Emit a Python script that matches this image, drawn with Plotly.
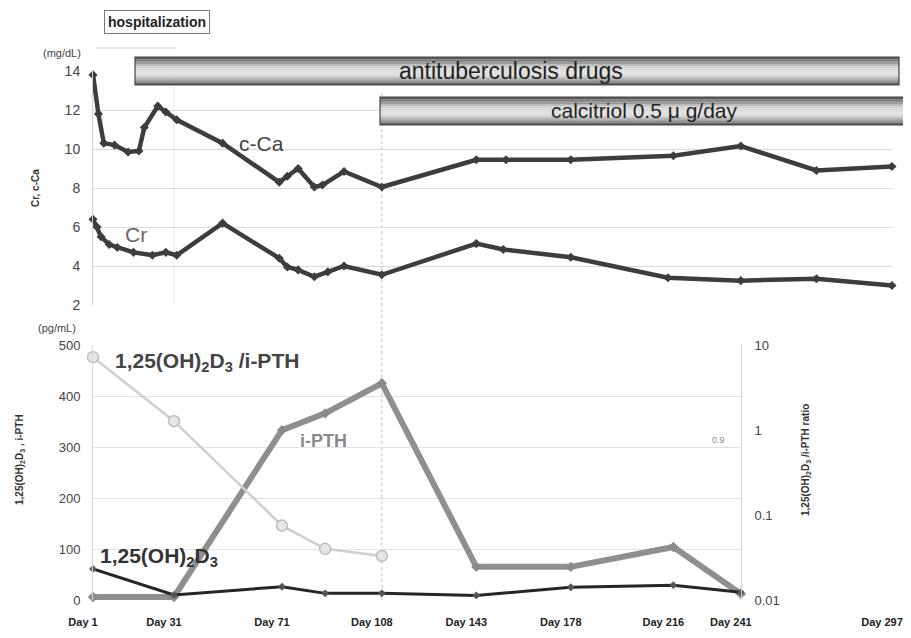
import plotly.graph_objects as go

# ---------------- data ----------------
ca_days = [1, 3, 5, 9, 14, 18, 20, 25, 28, 32, 49, 70, 73, 77, 83, 86, 94, 108, 143, 154, 178, 216, 241, 269, 297]
ca_vals = [13.8, 11.8, 10.3, 10.2, 9.85, 9.9, 11.1, 12.2, 11.9, 11.5, 10.3, 8.3, 8.6, 9.0, 8.05, 8.15, 8.85, 8.05, 9.45, 9.45, 9.45, 9.65, 10.15, 8.9, 9.1]

cr_days = [1, 2.5, 4, 7, 10, 16, 23, 28, 32, 49, 70, 73, 77, 83, 88, 94, 108, 143, 153, 178, 214, 241, 269, 297]
cr_vals = [6.4, 6.0, 5.5, 5.1, 4.95, 4.7, 4.55, 4.7, 4.55, 6.2, 4.4, 3.95, 3.8, 3.45, 3.7, 4.0, 3.55, 5.15, 4.85, 4.45, 3.4, 3.25, 3.35, 3.0]

lab_days = [1, 31, 71, 87, 108, 143, 178, 216, 241]
d3_vals = [61, 10, 26, 13, 13, 9, 25, 29, 15]
pth_vals = [6, 6, 333, 366, 425, 65, 65, 104, 12]

ratio_days = [1, 31, 71, 87, 108]
ratio_vals = [7.2, 1.27, 0.075, 0.040, 0.033]

tick_days = [1, 31, 71, 108, 143, 178, 216, 241, 297]
tick_labels = ["Day 1", "Day 31", "Day 71", "Day 108", "Day 143", "Day 178", "Day 216", "Day 241", "Day 297"]

top_ticks = [2, 4, 6, 8, 10, 12, 14]
bot_ticks = [0, 100, 200, 300, 400, 500]
ratio_ticks = [0.01, 0.1, 1, 10]
ratio_ticktext = ["0.01", "0.1", "1", "10"]

FONT = "Liberation Sans, Arial, sans-serif"

fig = go.Figure()

# top panel
fig.add_trace(go.Scatter(x=ca_days, y=ca_vals, mode="lines+markers", xaxis="x", yaxis="y",
                         line=dict(color="#3d3d3d", width=4.5),
                         marker=dict(symbol="diamond", size=7, color="#3d3d3d"),
                         cliponaxis=False, name="c-Ca"))
fig.add_trace(go.Scatter(x=cr_days, y=cr_vals, mode="lines+markers", xaxis="x", yaxis="y",
                         line=dict(color="#3d3d3d", width=4.5),
                         marker=dict(symbol="diamond", size=7, color="#3d3d3d"),
                         cliponaxis=False, name="Cr"))

# bottom panel
fig.add_trace(go.Scatter(x=ratio_days, y=ratio_vals, mode="lines+markers", xaxis="x2", yaxis="y3",
                         line=dict(color="#cfcfcf", width=2.5),
                         marker=dict(symbol="circle", size=11, color="#e6e6e6",
                                     line=dict(color="#bdbdbd", width=1.5)),
                         cliponaxis=False, name="ratio"))
fig.add_trace(go.Scatter(x=lab_days, y=pth_vals, mode="lines+markers", xaxis="x2", yaxis="y2",
                         line=dict(color="#8f8f8f", width=6),
                         marker=dict(symbol="diamond", size=8, color="#8a8a8a"),
                         cliponaxis=False, name="i-PTH"))
fig.add_trace(go.Scatter(x=lab_days, y=d3_vals, mode="lines+markers", xaxis="x2", yaxis="y2",
                         line=dict(color="#262626", width=3),
                         marker=dict(symbol="diamond", size=6, color="#555555"),
                         cliponaxis=False, name="1,25(OH)2D3"))

# ---------------- layout ----------------
# the page body adds an 8px offset at left/top; figure is sized to fit the 911x638 window
OFF = 8
W, H = 911 - OFF, 638 - OFF
ML, MR, MT, MB = 93 - OFF, 19, 71 - OFF, 38
PW = W - ML - MR
PH = H - MT - MB


def px(xp):
    return (xp - OFF - ML) / PW


def py(yp):
    return (H - MB - (yp - OFF)) / PH


shapes = []


def grad_bar(x0p, x1p, y0p, y1p):
    greys = [90, 120, 155, 188, 208, 220, 225, 220, 205, 178, 140, 95]
    n = len(greys)
    hgt = (y1p - y0p) / n
    for i, g in enumerate(greys):
        shapes.append(dict(type="rect", xref="paper", yref="paper",
                           x0=px(x0p), x1=px(x1p),
                           y0=py(y0p + i * hgt), y1=py(y0p + (i + 1) * hgt),
                           fillcolor=f"rgb({g},{g},{g})", line=dict(width=0), layer="above"))
    shapes.append(dict(type="rect", xref="paper", yref="paper",
                       x0=px(x0p), x1=px(x1p), y0=py(y0p), y1=py(y1p),
                       fillcolor="rgba(0,0,0,0)", line=dict(color="#444444", width=1.2), layer="above"))


grad_bar(135, 899, 57, 85)
grad_bar(380, 909, 97, 125)

# dashed vertical line at Day 108
shapes.append(dict(type="line", xref="x", yref="paper", x0=108, x1=108, y0=0, y1=py(92),
                   line=dict(color="#cccccc", width=1.2, dash="dot"), layer="below"))
# faint vertical gridline at Day 31 (top panel)
shapes.append(dict(type="line", xref="x", yref="paper", x0=31, x1=31, y0=py(305), y1=py(71),
                   line=dict(color="#e6e6e6", width=1), layer="below"))
# hospitalization bracket (faint)
shapes.append(dict(type="line", xref="paper", yref="paper", x0=px(96), x1=px(177),
                   y0=py(48), y1=py(48), line=dict(color="#d0d0d0", width=1.2)))


def ann(text, x, y, size, color, xanchor="center", angle=0, **kw):
    d = dict(text=text, x=px(x), y=py(y), xref="paper", yref="paper",
             xanchor=xanchor, yanchor="middle", textangle=angle, showarrow=False,
             font=dict(size=size, color=color, family=FONT))
    d.update(kw)
    return d


annotations = [
    ann("<b>hospitalization</b>", 157, 22, 14, "#222",
        bordercolor="#777", borderwidth=1, borderpad=3, bgcolor="white"),
    ann("antituberculosis drugs", 511, 71, 23, "#222"),
    ann("calcitriol 0.5 μ g/day", 644, 111, 21, "#222"),
    ann("(mg/dL)", 62, 53, 11, "#444"),
    ann("(pg/mL)", 57, 328, 11, "#444"),
    ann("c-Ca", 237, 143, 21, "#444", xanchor="left"),
    ann("Cr", 123, 234, 21, "#666", xanchor="left"),
    ann("<b>1,25(OH)<sub>2</sub>D<sub>3</sub> /i-PTH</b>", 113, 362, 21, "#444", xanchor="left"),
    ann("<b>i-PTH</b>", 298, 441, 18, "#8a8a8a", xanchor="left"),
    ann("<b>1,25(OH)<sub>2</sub>D<sub>3</sub></b>", 98, 557, 21, "#333", xanchor="left"),
    ann("0.9", 718, 440, 9, "#888"),
    ann("<b>Cr, c-Ca</b>", 35, 188, 10, "#333", angle=-90),
    ann("<b>1,25(OH)<sub>2</sub>D<sub>3</sub> , i-PTH</b>", 20, 460, 10, "#333", angle=-90),
    ann("<b>1,25(OH)<sub>2</sub>D<sub>3</sub> /i-PTH ratio</b>", 806, 460, 10, "#333", angle=-90),
]

bot_frac = (241 - 1) / (297 - 1)
top_lo = py(305)
bot_hi = py(345)

fig.update_layout(
    width=W, height=H,
    margin=dict(l=ML, r=MR, t=MT, b=MB),
    paper_bgcolor="white", plot_bgcolor="white",
    showlegend=False,
    font=dict(family=FONT, color="#333"),
    xaxis=dict(domain=[0, 1], range=[0.999, 297.001], anchor="free", position=0,
               tickvals=tick_days, ticktext=tick_labels, showgrid=False, zeroline=False,
               showline=False, ticks="", ticklabelshift=-10, ticklabelstandoff=14,
               ticklabeloverflow="allow",
               tickfont=dict(size=11, color="#222", family=FONT, weight="bold"),
               automargin=False),
    yaxis=dict(domain=[top_lo, 1], range=[2, 14], tickvals=top_ticks, anchor="x",
               showgrid=True, gridcolor="#dadada", gridwidth=1, zeroline=False,
               showline=True, linecolor="#d0d0d0", ticks="", ticklabelstandoff=9,
               tickfont=dict(size=14, color="#444"), automargin=False),
    xaxis2=dict(domain=[0, bot_frac], range=[1, 241], anchor="y2",
                showticklabels=False, showgrid=False, zeroline=False, showline=False,
                ticks="", automargin=False),
    yaxis2=dict(domain=[0, bot_hi], range=[0, 500], tickvals=bot_ticks, anchor="x2",
                showgrid=True, gridcolor="#e3e3e3", gridwidth=1, zeroline=False,
                showline=True, linecolor="#d6d6d6", ticks="", ticklabelstandoff=9,
                tickfont=dict(size=13, color="#444"), automargin=False),
    yaxis3=dict(type="log", range=[-2, 1], tickvals=ratio_ticks, ticktext=ratio_ticktext,
                overlaying="y2", side="right", anchor="x2", showgrid=False, zeroline=False,
                showline=True, linecolor="#d6d6d6", ticks="", ticklabelstandoff=10,
                tickfont=dict(size=13, color="#444"), automargin=False),
    shapes=shapes,
    annotations=annotations,
)

fig.write_html("out.html")
